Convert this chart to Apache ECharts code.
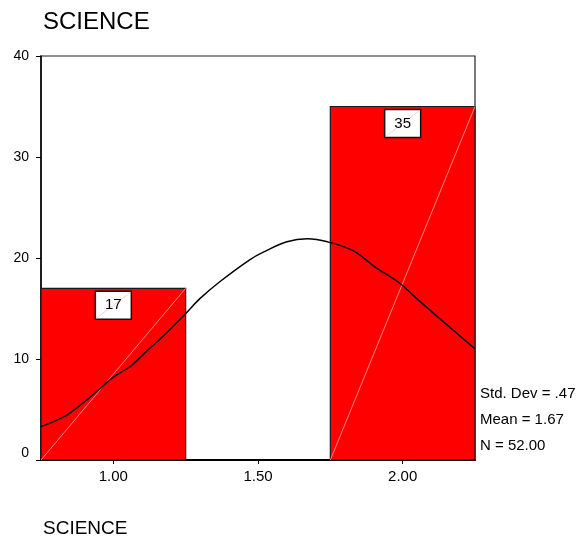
<!DOCTYPE html>
<html>
<head>
<meta charset="utf-8">
<script src="https://cdn.jsdelivr.net/npm/echarts@6/dist/echarts.min.js"></script>
<style>
  html, body { margin: 0; padding: 0; background: #fff; }
  #chart { width: 582px; height: 540px; }
</style>
</head>
<body>
<div id="chart"></div>
<script>
// Histogram of SCIENCE with a fitted normal curve
const binCenters = [1.00, 2.00];
const binCounts = [17, 35];
const binWidth = 0.5;

// Normal curve, read point by point
const curveX = [0.75, 0.83, 0.88, 0.94, 1.00, 1.06, 1.12, 1.17, 1.25, 1.30, 1.37, 1.47, 1.52, 1.60, 1.67, 1.74, 1.83, 1.91, 1.99, 2.04, 2.12, 2.25];
const curveY = [3.3, 4.3, 5.3, 6.7, 8.2, 9.3, 10.9, 12.2, 14.5, 16.0, 17.7, 19.8, 20.6, 21.6, 21.9, 21.6, 20.7, 19.0, 17.5, 16.2, 14.2, 11.0];

const xTicks = [1.00, 1.50, 2.00];
const statLines = ['Std. Dev = .47', 'Mean = 1.67', 'N = 52.00'];

const FONT = '"Liberation Sans", Arial, sans-serif';
const chart = echarts.init(document.getElementById('chart'));

function renderBar(params, api) {
  const c = api.value(0);
  const n = api.value(1);
  const tl = api.coord([c - binWidth / 2, n]);
  const br = api.coord([c + binWidth / 2, 0]);
  const w = br[0] - tl[0];
  const h = br[1] - tl[1];
  const cx = (tl[0] + br[0]) / 2;
  const bw = 36, bh = 28;
  const bx = cx - bw / 2, by = tl[1] + 3;
  return {
    type: 'group',
    children: [
      { type: 'rect', shape: { x: tl[0], y: tl[1], width: w, height: h },
        style: { fill: '#ff0000', stroke: '#1a1a1a', lineWidth: 1.2 } },
      { type: 'line', shape: { x1: tl[0], y1: br[1], x2: br[0], y2: tl[1] },
        style: { stroke: 'rgba(255,185,185,0.9)', lineWidth: 0.8 } },
      { type: 'rect', shape: { x: bx, y: by, width: bw, height: bh },
        style: { fill: '#fff', stroke: '#111', lineWidth: 1.5 } },
      { type: 'line', shape: { x1: bx + 1, y1: by + bh - 1, x2: bx + bw - 1, y2: by + 1 },
        style: { stroke: 'rgba(255,185,185,0.9)', lineWidth: 0.8 } },
      { type: 'text', x: cx, y: by + bh / 2,
        style: { text: String(n), font: '15px ' + FONT, fill: '#000',
                 align: 'center', verticalAlign: 'middle' } }
    ]
  };
}

chart.setOption({
  animation: false,
  backgroundColor: '#fff',
  title: [
    { text: 'SCIENCE', left: 38, top: 5,
      textStyle: { fontFamily: FONT, fontSize: 24, fontWeight: 'normal', color: '#000' } },
    { text: 'SCIENCE', left: 38, top: 514,
      textStyle: { fontFamily: FONT, fontSize: 19, fontWeight: 'normal', color: '#000' } }
  ],
  grid: { left: 41, right: 107, top: 56, bottom: 80, show: true,
          borderColor: '#222', borderWidth: 1.2, backgroundColor: '#fff' },
  xAxis: {
    type: 'value', min: 0.75, max: 2.25,
    splitLine: { show: false },
    axisLine: { show: true, onZero: false, lineStyle: { color: '#000', width: 2 } },
    axisTick: { show: true, customValues: xTicks, length: 4, lineStyle: { color: '#000' } },
    axisLabel: { customValues: xTicks, margin: 9, color: '#000', fontFamily: FONT, fontSize: 15,
                 formatter: v => v.toFixed(2) }
  },
  yAxis: {
    type: 'value', min: 0, max: 40, interval: 10,
    splitLine: { show: false },
    axisLine: { show: true, lineStyle: { color: '#000', width: 1.5 } },
    axisTick: { show: true, length: 5, lineStyle: { color: '#000' } },
    axisLabel: { margin: 12, color: '#000', fontFamily: FONT, fontSize: 14,
                 formatter: v => v === 0 ? '{z|0}' : String(v),
                 rich: { z: { fontFamily: FONT, fontSize: 14, color: '#000', padding: [0, 0, 14, 0] } } }
  },
  graphic: statLines.map((t, i) => ({
    type: 'text', left: 480, top: 386 + i * 26,
    style: { text: t, font: '15px ' + FONT, fill: '#000' }
  })),
  series: [
    { type: 'custom', renderItem: renderBar, z: 2,
      data: binCenters.map((c, i) => [c, binCounts[i]]) },
    { type: 'line', data: curveX.map((x, i) => [x, curveY[i]]), z: 5,
      showSymbol: false, symbol: 'none', smooth: 0.35,
      lineStyle: { color: '#000', width: 1.5 } }
  ]
});
</script>
</body>
</html>
